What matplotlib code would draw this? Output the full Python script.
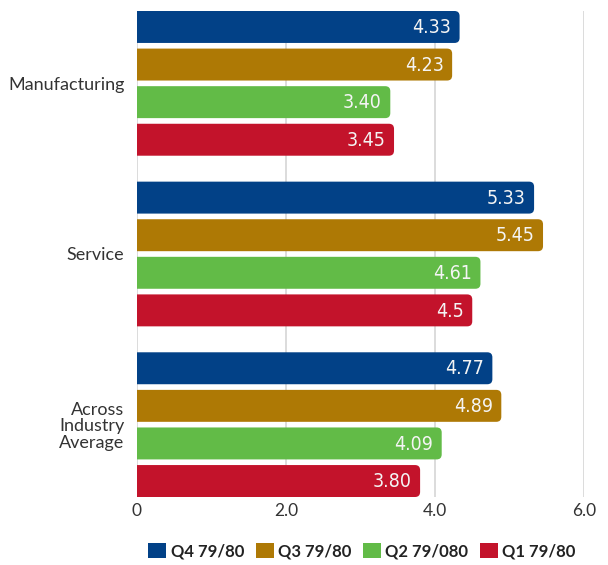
import matplotlib
matplotlib.use("Agg")
import matplotlib.pyplot as plt
from matplotlib.patches import FancyBboxPatch, Patch
from matplotlib import font_manager

categories = ["Manufacturing", "Service", "Across\nIndustry\nAverage"]
series = ["Q4 79/80", "Q3 79/80", "Q2 79/080", "Q1 79/80"]
colors = ["#024187", "#AE7905", "#62BB47", "#C3132B"]
q4 = [4.33, 5.33, 4.77]
q3 = [4.23, 5.45, 4.89]
q2 = [3.40, 4.61, 4.09]
q1 = [3.45, 4.5, 3.80]
labels = [["4.33", "5.33", "4.77"],
          ["4.23", "5.45", "4.89"],
          ["3.40", "4.61", "4.09"],
          ["3.45", "4.5", "3.80"]]
xticks = [0, 2, 4, 6]
xticklabels = ["0", "2.0", "4.0", "6.0"]

# condensed face for the numbers on the bars, if one is installed
num_font = {"family": ["Roboto", "DejaVu Sans"]}
for f in font_manager.fontManager.ttflist:
    if f.stretch == "condensed" and f.name == "DejaVu Sans":
        num_font = {"family": ["DejaVu Sans"], "stretch": "condensed"}
        break
plt.rcParams["font.family"] = ["Lato", "DejaVu Sans"]

fig = plt.figure(figsize=(6.08, 5.65), dpi=100)
ax = fig.add_axes([137 / 608, 1 - 497 / 565, (584 - 137) / 608, (497 - 11) / 565])

group_gap = 4.54
bar_h = 0.85
rad = 0.068
aspect = 1.98

for i, vals in enumerate([q4, q3, q2, q1]):
    ys = [g * group_gap + i for g in range(len(categories))]
    bars = ax.barh(ys, vals, height=bar_h, color=colors[i], zorder=3)
    for bar, txt in zip(bars, labels[i]):
        x0, y0 = bar.get_x(), bar.get_y()
        w, h = bar.get_width(), bar.get_height()
        bar.set_visible(False)
        # start left of the axes so the clip squares off the left end
        ax.add_patch(FancyBboxPatch((x0 - 0.3, y0), w + 0.3, h,
                                    boxstyle=f"round,pad=0,rounding_size={rad}",
                                    mutation_aspect=aspect, fc=colors[i], ec="none", zorder=3))
        ax.annotate(txt, (x0 + w, y0 + h / 2), xytext=(-6, -0.5), textcoords="offset points",
                    ha="right", va="center", color="#F4F4F4", fontsize=14, zorder=4, **num_font)

centers = [g * group_gap + 1.5 for g in range(len(categories))]
ax.set_yticks(centers)
ax.set_yticklabels(categories, fontsize=13, color="#333333", linespacing=1.05)
ax.set_ylim(2 * group_gap + 3 + bar_h / 2, -bar_h / 2)
ax.set_xlim(0, 6)
ax.set_xticks(xticks)
ax.set_xticklabels(xticklabels, fontsize=12.5, color="#333333")
ax.tick_params(axis="both", length=0)
ax.tick_params(axis="y", pad=9)
ax.tick_params(axis="x", pad=4)
ax.grid(axis="x", color="#D6D6D6", linewidth=1.2, zorder=0)
for s in ax.spines.values():
    s.set_visible(False)

handles = [Patch(facecolor=c, edgecolor="none") for c in colors]
fig.legend(handles, series, loc="center", bbox_to_anchor=(0.595, 0.025), ncol=4,
           frameon=False, handlelength=1.08, handleheight=1.08, handletextpad=0.25,
           columnspacing=0.7, prop={"weight": "bold", "size": 12})
for t in fig.legends[0].get_texts():
    t.set_color("#222222")

fig.savefig("out.png", dpi=100)
